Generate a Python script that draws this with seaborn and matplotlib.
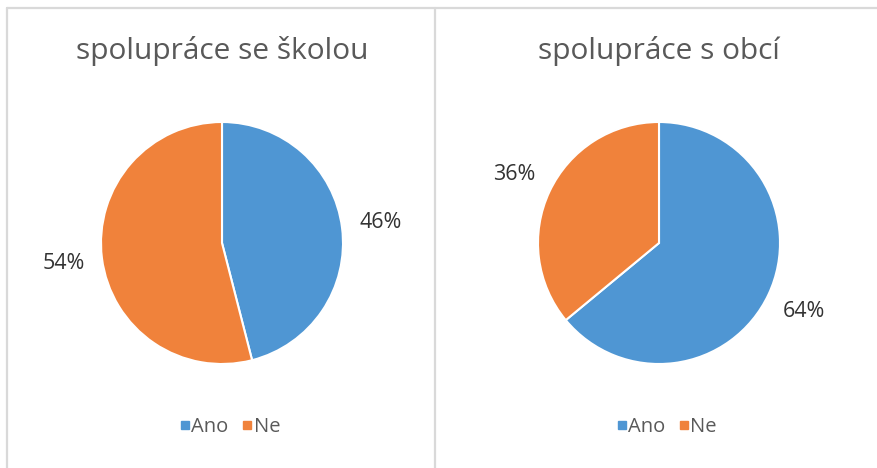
import matplotlib
matplotlib.use("Agg")
import matplotlib.pyplot as plt
from matplotlib.lines import Line2D
import seaborn as sns

titles = ["spolupráce se školou", "spolupráce s obcí"]
categories = ["Ano", "Ne"]
skola_values = [46, 54]
obec_values = [64, 36]
colors = ["#4F96D3", "#F0823B"]

sns.set_theme(style="white")
plt.rcParams['font.family'] = ['Open Sans', 'DejaVu Sans']

W, H = 877, 468
fig = plt.figure(figsize=(W / 100, H / 100), dpi=100)
fig.patch.set_facecolor("white")

def px_line(x0, y0, x1, y1):
    fig.add_artist(Line2D([x0 / W, x1 / W], [1 - y0 / H, 1 - y1 / H],
                          transform=fig.transFigure, color="#D9D9D9", lw=1.6))

px_line(7, 7.5, W, 7.5)
px_line(7, 7.5, 7, H)
px_line(435, 7.5, 435, H)

R = 121
lim = 1.5
centers = [(222, 243), (659, 243)]
datasets = [skola_values, obec_values]

for (cx, cy), vals, title in zip(centers, datasets, titles):
    size = 2 * lim * R
    ax = fig.add_axes([(cx - size / 2) / W, (H - cy - size / 2) / H, size / W, size / H])
    wedges, texts, autotexts = ax.pie(
        vals, colors=colors, startangle=90, counterclock=False,
        autopct='%1.0f%%', pctdistance=1.32,
        wedgeprops=dict(edgecolor="white", linewidth=1.5),
        textprops=dict(color="#333333", fontsize=15.5))
    ax.set_xlim(-lim, lim)
    ax.set_ylim(-lim, lim)
    ax.set_aspect("equal")
    fig.text(cx / W, 1 - 51 / H, title, ha="center", va="center",
             fontsize=21.5, color="#595959")
    handles = [Line2D([], [], marker="s", linestyle="none", markersize=5.5,
                      markerfacecolor=c, markeredgecolor=c) for c in colors]
    fig.legend(handles, categories, loc="center",
               bbox_to_anchor=((cx + 8) / W, 1 - 427 / H),
               ncol=2, frameon=False, fontsize=14.5, handlelength=0.5,
               handletextpad=0.05, columnspacing=0.7, labelcolor="#595959")

fig.savefig("out.png", dpi=100, facecolor="white")
